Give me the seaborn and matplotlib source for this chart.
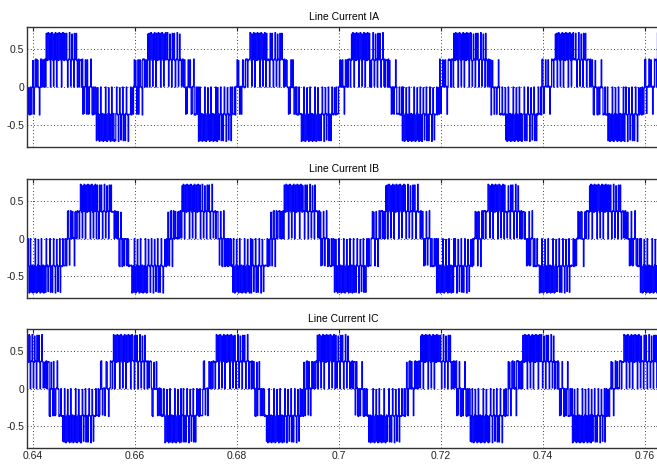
import numpy as np
import pandas as pd
import matplotlib
matplotlib.use('Agg')
import matplotlib.pyplot as plt
from matplotlib import font_manager
import seaborn as sns

# ---- chart text ----
titles = ['Line Current IA', 'Line Current IB', 'Line Current IC']
x_ticks = [0.64, 0.66, 0.68, 0.70, 0.72, 0.74, 0.76]
x_tick_labels = ['0.64', '0.66', '0.68', '0.7', '0.72', '0.74', '0.76']
y_ticks = [-0.5, 0.0, 0.5]
y_tick_labels = ['-0.5', '0', '0.5']

# ---- waveform values ----
period = 0.02            # s (50 Hz)
peak_time_a = 0.6456     # centre of IA positive 0.7 group
phase_lag = [0.0, 1 / 3, 2 / 3]   # IB, IC lag IA by 1/3 period each
slot = 0.00012           # switching slot length (s)
# sectors of a positive half cycle (degrees from the peak centre);
# the negative half cycle is the same with the sign reversed
sector_edges_deg = [-90, -74, -58, 8, 58, 74, 90]
mixed_rise = [0.0, 0.01, -0.36, 0.0, 0.36, 0.35, 0.0, -0.01, -0.37, 0.0, 0.37, 0.0, 0.01, 0.36]
rise = [0.36, 0.37, 0.0, 0.35, 0.36, 0.0, 0.01, 0.37, 0.35, 0.36, 0.0, 0.37]
dense_peak = [0.72, 0.70, 0.36, 0.71, 0.0, 0.37, 0.72, 0.71, 0.35, 0.01, 0.70, 0.36,
              0.72, 0.37, 0.0, 0.71, 0.36, 0.35]
sparse_peak = [0.36, 0.37, 0.71, 0.35, 0.0, 0.36, 0.37, 0.72, 0.36, 0.01, 0.35, 0.70,
               0.37, 0.36, 0.0, 0.71]
fall = [0.36, 0.0, 0.37, 0.35, 0.01, 0.36, 0.37, 0.0, 0.35, 0.36]
mixed_fall = [0.0, 0.36, 0.01, -0.36, -0.37, 0.0, 0.35, 0.0, -0.01, -0.36, 0.0, -0.35]
sector_patterns = [mixed_rise, rise, dense_peak, sparse_peak, fall, mixed_fall]
slot_offsets = [0, 7, 13]
t_start, t_end = 0.6386, 0.7632

# ---- build the series ----
n = int((t_end - t_start) / slot) + 1
t = t_start + np.arange(n) * slot
series = []
edges = np.array(sector_edges_deg)
for lag, off in zip(phase_lag, slot_offsets):
    theta = ((t - peak_time_a - lag * period) / period * 360 + 90) % 360 - 90
    pos = theta < 90
    half = np.where(pos, theta, theta - 180)
    sign = np.where(pos, 1, -1)
    sec = np.clip(np.searchsorted(edges, half, side='right') - 1, 0, len(sector_patterns) - 1)
    k = np.arange(n) + off
    vals = np.array([sector_patterns[s][kk % len(sector_patterns[s])] for s, kk in zip(sec, k)])
    series.append(sign * vals)

df = pd.DataFrame({'t': t, 'IA': series[0], 'IB': series[1], 'IC': series[2]})

# ---- style ----
sns.set_style('white')
avail = {f.name for f in font_manager.fontManager.ttflist}
fam = [f for f in ['Liberation Sans Narrow', 'Liberation Sans', 'DejaVu Sans'] if f in avail]
plt.rcParams['font.family'] = fam

fig = plt.figure(figsize=(6.57, 4.67), dpi=100)
left, width = 27 / 657, 0.964
positions = [
    [left, 1 - 146.7 / 467, width, 119.4 / 467],
    [left, 1 - 298.3 / 467, width, 119.3 / 467],
    [left, 1 - 448.0 / 467, width, 118.7 / 467],
]
xmin = 0.64 - 6 / 5100
xmax = 0.64 + (left * 657 + width * 657 - 33) / 5100

for i, (col, title) in enumerate(zip(['IA', 'IB', 'IC'], titles)):
    ax = fig.add_axes(positions[i])
    sns.lineplot(data=df, x='t', y=col, ax=ax, color='#0000FF', lw=0.85,
                 drawstyle='steps-post', estimator=None, sort=False)
    ax.set_xlim(xmin, xmax)
    ax.set_ylim(-0.79, 0.79)
    ax.set_xticks(x_ticks)
    ax.set_yticks(y_ticks)
    ax.set_yticklabels(y_tick_labels)
    if i == 2:
        ax.set_xticklabels(x_tick_labels)
    else:
        ax.set_xticklabels([])
    ax.set_xlabel('')
    ax.set_ylabel('')
    ax.set_title(title, fontsize=7.5, pad=5, color='black')
    ax.grid(True, color='black', linestyle=(0, (1, 3)), linewidth=0.6)
    ax.tick_params(direction='in', length=3, top=True, right=True,
                   labelsize=7.5, colors='#222222', pad=2)
    for sp in ax.spines.values():
        sp.set_color('#333333')
        sp.set_linewidth(1.0)
        sp.set_visible(True)

fig.savefig('out.png', dpi=100)
